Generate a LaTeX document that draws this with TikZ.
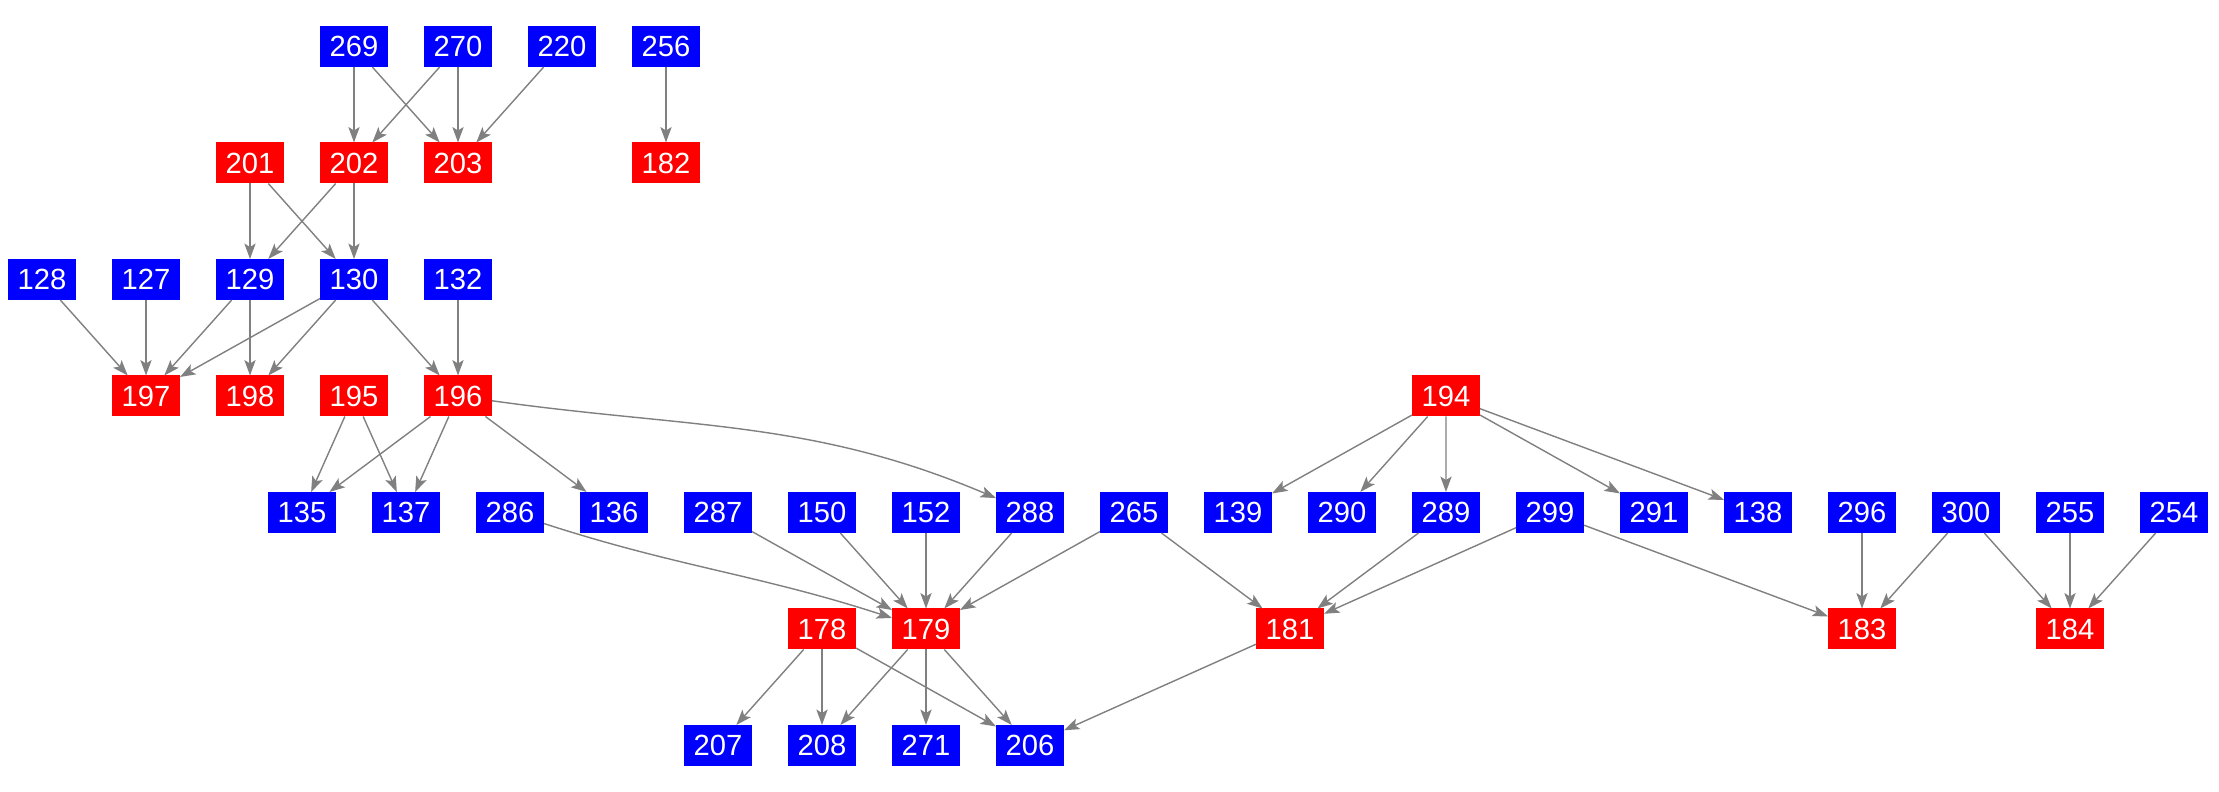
\documentclass[tikz,border=0pt]{standalone}
\usepackage{fontspec}
\setmainfont{Liberation Sans}
\usetikzlibrary{positioning,arrows.meta}

\begin{document}
\begin{tikzpicture}[
      node distance=0.755cm and 0.36cm,
      nd/.style={minimum width=0.68cm, minimum height=0.41cm, inner sep=0pt, outer sep=0pt,
                 text=white, font=\fontsize{8.3}{10}\selectfont},
      bl/.style={nd, fill=blue},
      rd/.style={nd, fill=red},
      arr/.style={-{Stealth[length=4.4pt, width=3.2pt, inset=1pt]}, gray, line width=0.4pt}]
    \useasboundingbox (0,0) rectangle (22.19,-7.92);
    \node[bl] (n128) at (0.42,-2.795) {128};
    \node[bl, right=of n128] (n127) {127};
    \node[bl, right=of n127] (n129) {129};
    \node[bl, right=of n129] (n130) {130};
    \node[bl, right=of n130] (n132) {132};
    \node[rd, above=of n129] (n201) {201};
    \node[rd, above=of n130] (n202) {202};
    \node[rd, above=of n132] (n203) {203};
    \node[rd, right=1.4cm of n203] (n182) {182};
    \node[bl, above=of n202] (n269) {269};
    \node[bl, above=of n203] (n270) {270};
    \node[bl, right=of n270] (n220) {220};
    \node[bl, above=of n182] (n256) {256};
    \node[rd, below=of n127] (n197) {197};
    \node[rd, below=of n129] (n198) {198};
    \node[rd, below=of n130] (n195) {195};
    \node[rd, below=of n132] (n196) {196};
    \node[rd, right=9.2cm of n196] (n194) {194};
    \node[bl, below=of n198, xshift=0.52cm] (n135) {135};
    \node[bl, right=of n135] (n137) {137};
    \node[bl, right=of n137] (n286) {286};
    \node[bl, right=of n286] (n136) {136};
    \node[bl, right=of n136] (n287) {287};
    \node[bl, right=of n287] (n150) {150};
    \node[bl, right=of n150] (n152) {152};
    \node[bl, right=of n152] (n288) {288};
    \node[bl, right=of n288] (n265) {265};
    \node[bl, right=of n265] (n139) {139};
    \node[bl, right=of n139] (n290) {290};
    \node[bl, right=of n290] (n289) {289};
    \node[bl, right=of n289] (n299) {299};
    \node[bl, right=of n299] (n291) {291};
    \node[bl, right=of n291] (n138) {138};
    \node[bl, right=of n138] (n296) {296};
    \node[bl, right=of n296] (n300) {300};
    \node[bl, right=of n300] (n255) {255};
    \node[bl, right=of n255] (n254) {254};
    \node[rd, below=of n152] (n179) {179};
    \node[rd, left=of n179] (n178) {178};
    \node[rd, right=2.96cm of n179] (n181) {181};
    \node[rd, below=of n296] (n183) {183};
    \node[rd, below=of n255] (n184) {184};
    \node[bl, below=of n179] (n271) {271};
    \node[bl, left=of n271] (n208) {208};
    \node[bl, left=of n208] (n207) {207};
    \node[bl, right=of n271] (n206) {206};
    \draw[arr] (n269) -- (n202); \draw[arr] (n269) -- (n203); \draw[arr] (n270) -- (n202);
    \draw[arr] (n270) -- (n203); \draw[arr] (n220) -- (n203); \draw[arr] (n256) -- (n182);
    \draw[arr] (n201) -- (n129); \draw[arr] (n201) -- (n130);
    \draw[arr] (n202) -- (n129); \draw[arr] (n202) -- (n130);
    \draw[arr] (n128) -- (n197); \draw[arr] (n127) -- (n197); \draw[arr] (n129) -- (n197);
    \draw[arr] (n129) -- (n198); \draw[arr] (n130) -- (n197); \draw[arr] (n130) -- (n198);
    \draw[arr] (n130) -- (n196); \draw[arr] (n132) -- (n196);
    \draw[arr] (n195) -- (n135); \draw[arr] (n195) -- (n137); \draw[arr] (n196) -- (n135);
    \draw[arr] (n196) -- (n137); \draw[arr] (n196) -- (n136);
    \draw[arr] (n196) to[out=-8, in=157] (n288);
    \draw[arr] (n194) -- (n139); \draw[arr] (n194) -- (n290); \draw[arr] (n194) -- (n289);
    \draw[arr] (n194) -- (n291); \draw[arr] (n194) -- (n138);
    \draw[arr] (n286) to[out=-18, in=162] (n179);
    \draw[arr] (n287) -- (n179); \draw[arr] (n150) -- (n179); \draw[arr] (n152) -- (n179);
    \draw[arr] (n288) -- (n179); \draw[arr] (n265) -- (n179); \draw[arr] (n265) -- (n181);
    \draw[arr] (n289) -- (n181); \draw[arr] (n299) -- (n181); \draw[arr] (n299) -- (n183);
    \draw[arr] (n296) -- (n183); \draw[arr] (n300) -- (n183); \draw[arr] (n300) -- (n184);
    \draw[arr] (n255) -- (n184); \draw[arr] (n254) -- (n184);
    \draw[arr] (n178) -- (n207); \draw[arr] (n178) -- (n208); \draw[arr] (n178) -- (n206);
    \draw[arr] (n179) -- (n208); \draw[arr] (n179) -- (n271); \draw[arr] (n179) -- (n206);
    \draw[arr] (n181) -- (n206);
  \end{tikzpicture}
\end{document}
